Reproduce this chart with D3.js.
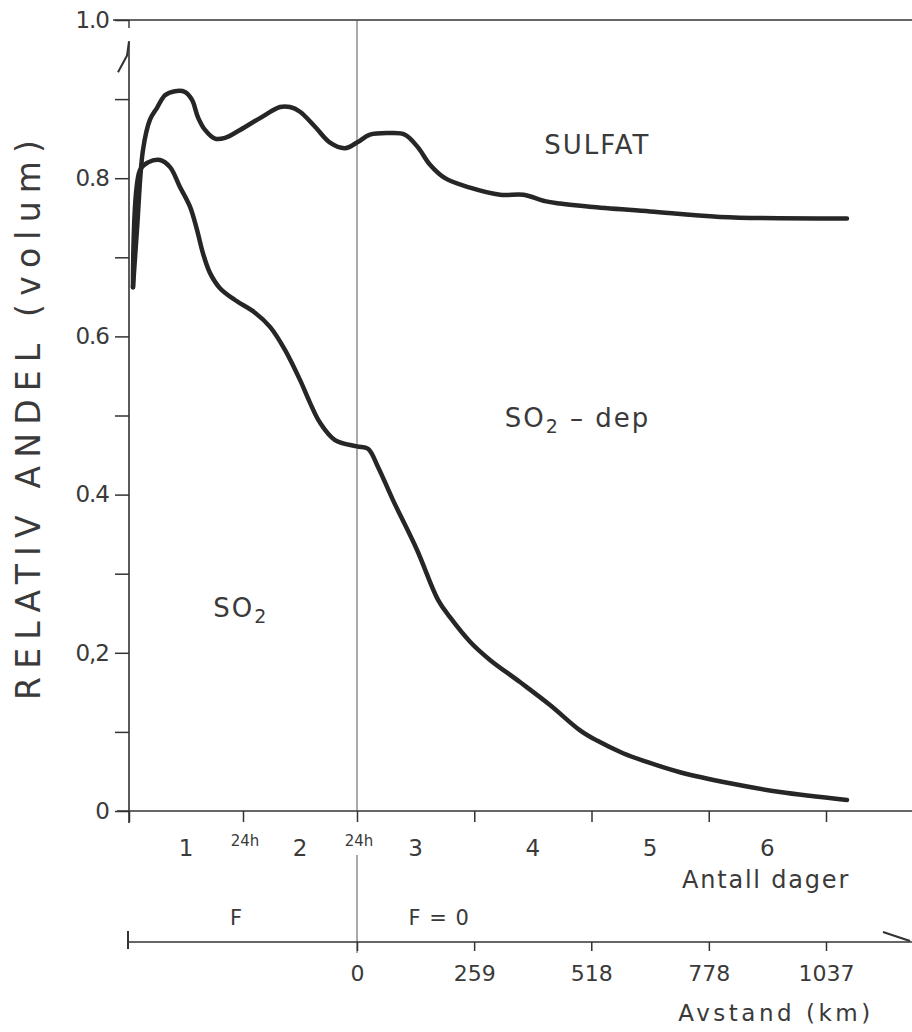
<!DOCTYPE html>
<html>
<head>
<meta charset="utf-8">
<script src="https://cdn.jsdelivr.net/npm/d3@7/dist/d3.min.js"></script>
<style>
  html, body { margin: 0; padding: 0; background: #fff; }
  svg { display: block; }
  text { font-family: "DejaVu Sans", "Liberation Sans", sans-serif; fill: #3a3a3a; }
</style>
</head>
<body>
<svg id="chart" width="912" height="1032"></svg>
<script>
// ---- data (days, relative share) ----
const upperDays = [0.035,0.070,0.123,0.184,0.246,0.316,0.404,0.491,0.553,0.605,0.667,0.754,0.842,0.974,1.149,1.325,1.412,1.500,1.632,1.763,1.895,2.000,2.111,2.281,2.409,2.520,2.623,2.751,2.964,3.220,3.420,3.603,3.731,3.987,4.499,5.096,6.179];
const upperVals = [0.662,0.735,0.836,0.874,0.889,0.905,0.910,0.909,0.899,0.877,0.861,0.850,0.851,0.861,0.876,0.890,0.890,0.884,0.865,0.845,0.838,0.845,0.855,0.857,0.855,0.839,0.817,0.800,0.788,0.779,0.779,0.771,0.768,0.764,0.758,0.751,0.749];
const lowerDays = [0.035,0.096,0.167,0.272,0.360,0.447,0.535,0.596,0.649,0.711,0.798,0.930,1.105,1.237,1.368,1.500,1.588,1.675,1.807,2.000,2.094,2.179,2.307,2.512,2.691,2.793,2.964,3.134,3.390,3.646,3.902,4.047,4.269,4.474,4.755,5.181,5.608,6.179];
const lowerVals = [0.662,0.810,0.820,0.823,0.814,0.789,0.764,0.735,0.705,0.680,0.661,0.646,0.630,0.612,0.583,0.545,0.516,0.491,0.469,0.461,0.458,0.435,0.393,0.330,0.267,0.245,0.214,0.191,0.163,0.134,0.102,0.089,0.073,0.062,0.049,0.035,0.024,0.014];

const yTicks = [0,0.1,0.2,0.3,0.4,0.5,0.6,0.7,0.8,0.9,1.0];
const yTickLabels = {0:"0", 0.2:"0,2", 0.4:"0.4", 0.6:"0.6", 0.8:"0.8", 1.0:"1.0"};
const dayTicks = [0,1,2,3,4,5,6];
const dayLabels = ["1","2","3","4","5","6"];
const hourMarks = [1,2];
const hourLabel = "24h";
const kmTicks = [0,259,518,778,1037];
const regionLabels = [
  {text:"SULFAT", sub:null, day:4.05, v:0.83, anchor:"middle"},
  {text:"SO", sub:"2", tail:" – dep", day:3.26, v:0.485, anchor:"start"},
  {text:"SO", sub:"2", tail:"", day:0.74, v:0.245, anchor:"start"}
];

// ---- scales ----
const svg = d3.select("#chart");
const x = d3.scaleLinear().domain([0,2,6]).range([129,357,826]);
const y = d3.scaleLinear().domain([0,1]).range([811,20]);
const km = d3.scaleLinear().domain([0,1037]).range([x(2), x(6)]);
const W = 912;
const ink = "#333";

// top frame line
svg.append("line").attr("x1", 113).attr("x2", W).attr("y1", y(1)).attr("y2", y(1))
  .attr("stroke", ink).attr("stroke-width", 1.6);
svg.append("line").attr("x1", x(0)).attr("x2", x(0)).attr("y1", y(1)).attr("y2", y(1)+8)
  .attr("stroke", ink).attr("stroke-width", 1.4);

// y axis
const yAxis = d3.axisLeft(y).tickValues(yTicks).tickSize(14).tickPadding(6)
  .tickFormat(d => yTickLabels[Math.round(d*10)/10] !== undefined ? yTickLabels[Math.round(d*10)/10] : "");
const gy = svg.append("g").attr("transform", `translate(${x(0)},0)`).call(yAxis);
gy.select(".domain").remove();
gy.selectAll(".tick line").attr("stroke", ink).attr("stroke-width", 1.5);
gy.selectAll(".tick text").attr("font-size", 23).attr("fill", "#3a3a3a").attr("font-family", "DejaVu Sans")
  .attr("letter-spacing", -1);
svg.append("line").attr("x1", x(0)).attr("x2", x(0)).attr("y1", y(0.973)).attr("y2", y(0)+12)
  .attr("stroke", ink).attr("stroke-width", 1.6);
// half arrow on y axis
svg.append("path")
  .attr("d", `M${x(0)-11},${y(0.934)} L${x(0)-2},${y(0.955)} L${x(0)},${y(0.973)}`)
  .attr("fill", "none").attr("stroke", ink).attr("stroke-width", 2);

// x axis (days)
const xAxis = d3.axisBottom(x).tickValues(dayTicks).tickSize(11).tickFormat("");
const gx = svg.append("g").attr("transform", `translate(0,${y(0)})`).call(xAxis);
gx.select(".domain").remove();
gx.selectAll(".tick line").attr("stroke", ink).attr("stroke-width", 1.5);
svg.append("line").attr("x1", 117).attr("x2", W).attr("y1", y(0)).attr("y2", y(0))
  .attr("stroke", ink).attr("stroke-width", 1.6);

// vertical separator at day 2
svg.append("line").attr("x1", x(2)).attr("x2", x(2)).attr("y1", y(1)).attr("y2", y(0))
  .attr("stroke", "#555").attr("stroke-width", 1);
svg.append("line").attr("x1", x(2)).attr("x2", x(2)).attr("y1", 855).attr("y2", 953)
  .attr("stroke", "#555").attr("stroke-width", 1);

// day labels
svg.append("g").selectAll("text").data(dayLabels).join("text")
  .attr("x", (d,i) => x(i+0.5)).attr("y", 856)
  .attr("text-anchor", "middle").attr("font-size", 23).text(d => d);
svg.append("g").selectAll("text").data(hourMarks).join("text")
  .attr("x", d => x(d)+2).attr("y", 846)
  .attr("text-anchor", "middle").attr("font-size", 15).text(hourLabel);
svg.append("text").attr("x", 766).attr("y", 888).attr("text-anchor", "middle")
  .attr("font-size", 24).attr("letter-spacing", 1.8).text("Antall dager");

// F labels
svg.append("text").attr("x", x(0.94)).attr("y", 925).attr("text-anchor", "middle")
  .attr("font-size", 21).text("F");
svg.append("text").attr("x", x(2.7)).attr("y", 925).attr("text-anchor", "middle")
  .attr("font-size", 21).attr("letter-spacing", 1).text("F = 0");

// km axis
const kmAxis = d3.axisBottom(km).tickValues(kmTicks).tickSize(9).tickPadding(14).tickFormat(d => d);
const gk = svg.append("g").attr("transform", "translate(0,942)").call(kmAxis);
gk.select(".domain").remove();
gk.selectAll(".tick line").attr("stroke", ink).attr("stroke-width", 1.5);
gk.selectAll(".tick text").attr("font-size", 22).attr("fill", "#3a3a3a").attr("font-family", "DejaVu Sans");
svg.append("line").attr("x1", x(0)-1).attr("x2", W).attr("y1", 942).attr("y2", 942)
  .attr("stroke", ink).attr("stroke-width", 1.6);
svg.append("line").attr("x1", x(0)-1).attr("x2", x(0)-1).attr("y1", 931).attr("y2", 949)
  .attr("stroke", ink).attr("stroke-width", 2);
svg.append("path").attr("d", `M883,932 L910,941`).attr("fill", "none")
  .attr("stroke", ink).attr("stroke-width", 2.2);
svg.append("text").attr("x", 776).attr("y", 1021).attr("text-anchor", "middle")
  .attr("font-size", 23).attr("letter-spacing", 3.5).text("Avstand (km)");

// y title
svg.append("text").attr("transform", "translate(40,420) rotate(-90)")
  .attr("text-anchor", "middle").attr("font-size", 33)
  .attr("textLength", 560).attr("lengthAdjust", "spacing")
  .text("RELATIV ANDEL (volum)");

// curves
const line = d3.line().x(d => x(d[0])).y(d => y(d[1])).curve(d3.curveCatmullRom.alpha(0.5));
const upper = upperDays.map((d,i) => [d, upperVals[i]]);
const lower = lowerDays.map((d,i) => [d, lowerVals[i]]);
[upper, lower].forEach(s => {
  svg.append("path").datum(s).attr("d", line).attr("fill", "none")
    .attr("stroke", "#262626").attr("stroke-width", 4.5)
    .attr("stroke-linecap", "round").attr("stroke-linejoin", "round");
});

// region labels
regionLabels.forEach(r => {
  const t = svg.append("text").attr("x", x(r.day)).attr("y", y(r.v))
    .attr("text-anchor", r.anchor).attr("font-size", 26).attr("letter-spacing", 2);
  t.append("tspan").text(r.text);
  if (r.sub) {
    t.append("tspan").attr("font-size", 19).attr("dy", 6).text(r.sub);
    if (r.tail) t.append("tspan").attr("dy", -6).text(r.tail);
  }
});
</script>
</body>
</html>
